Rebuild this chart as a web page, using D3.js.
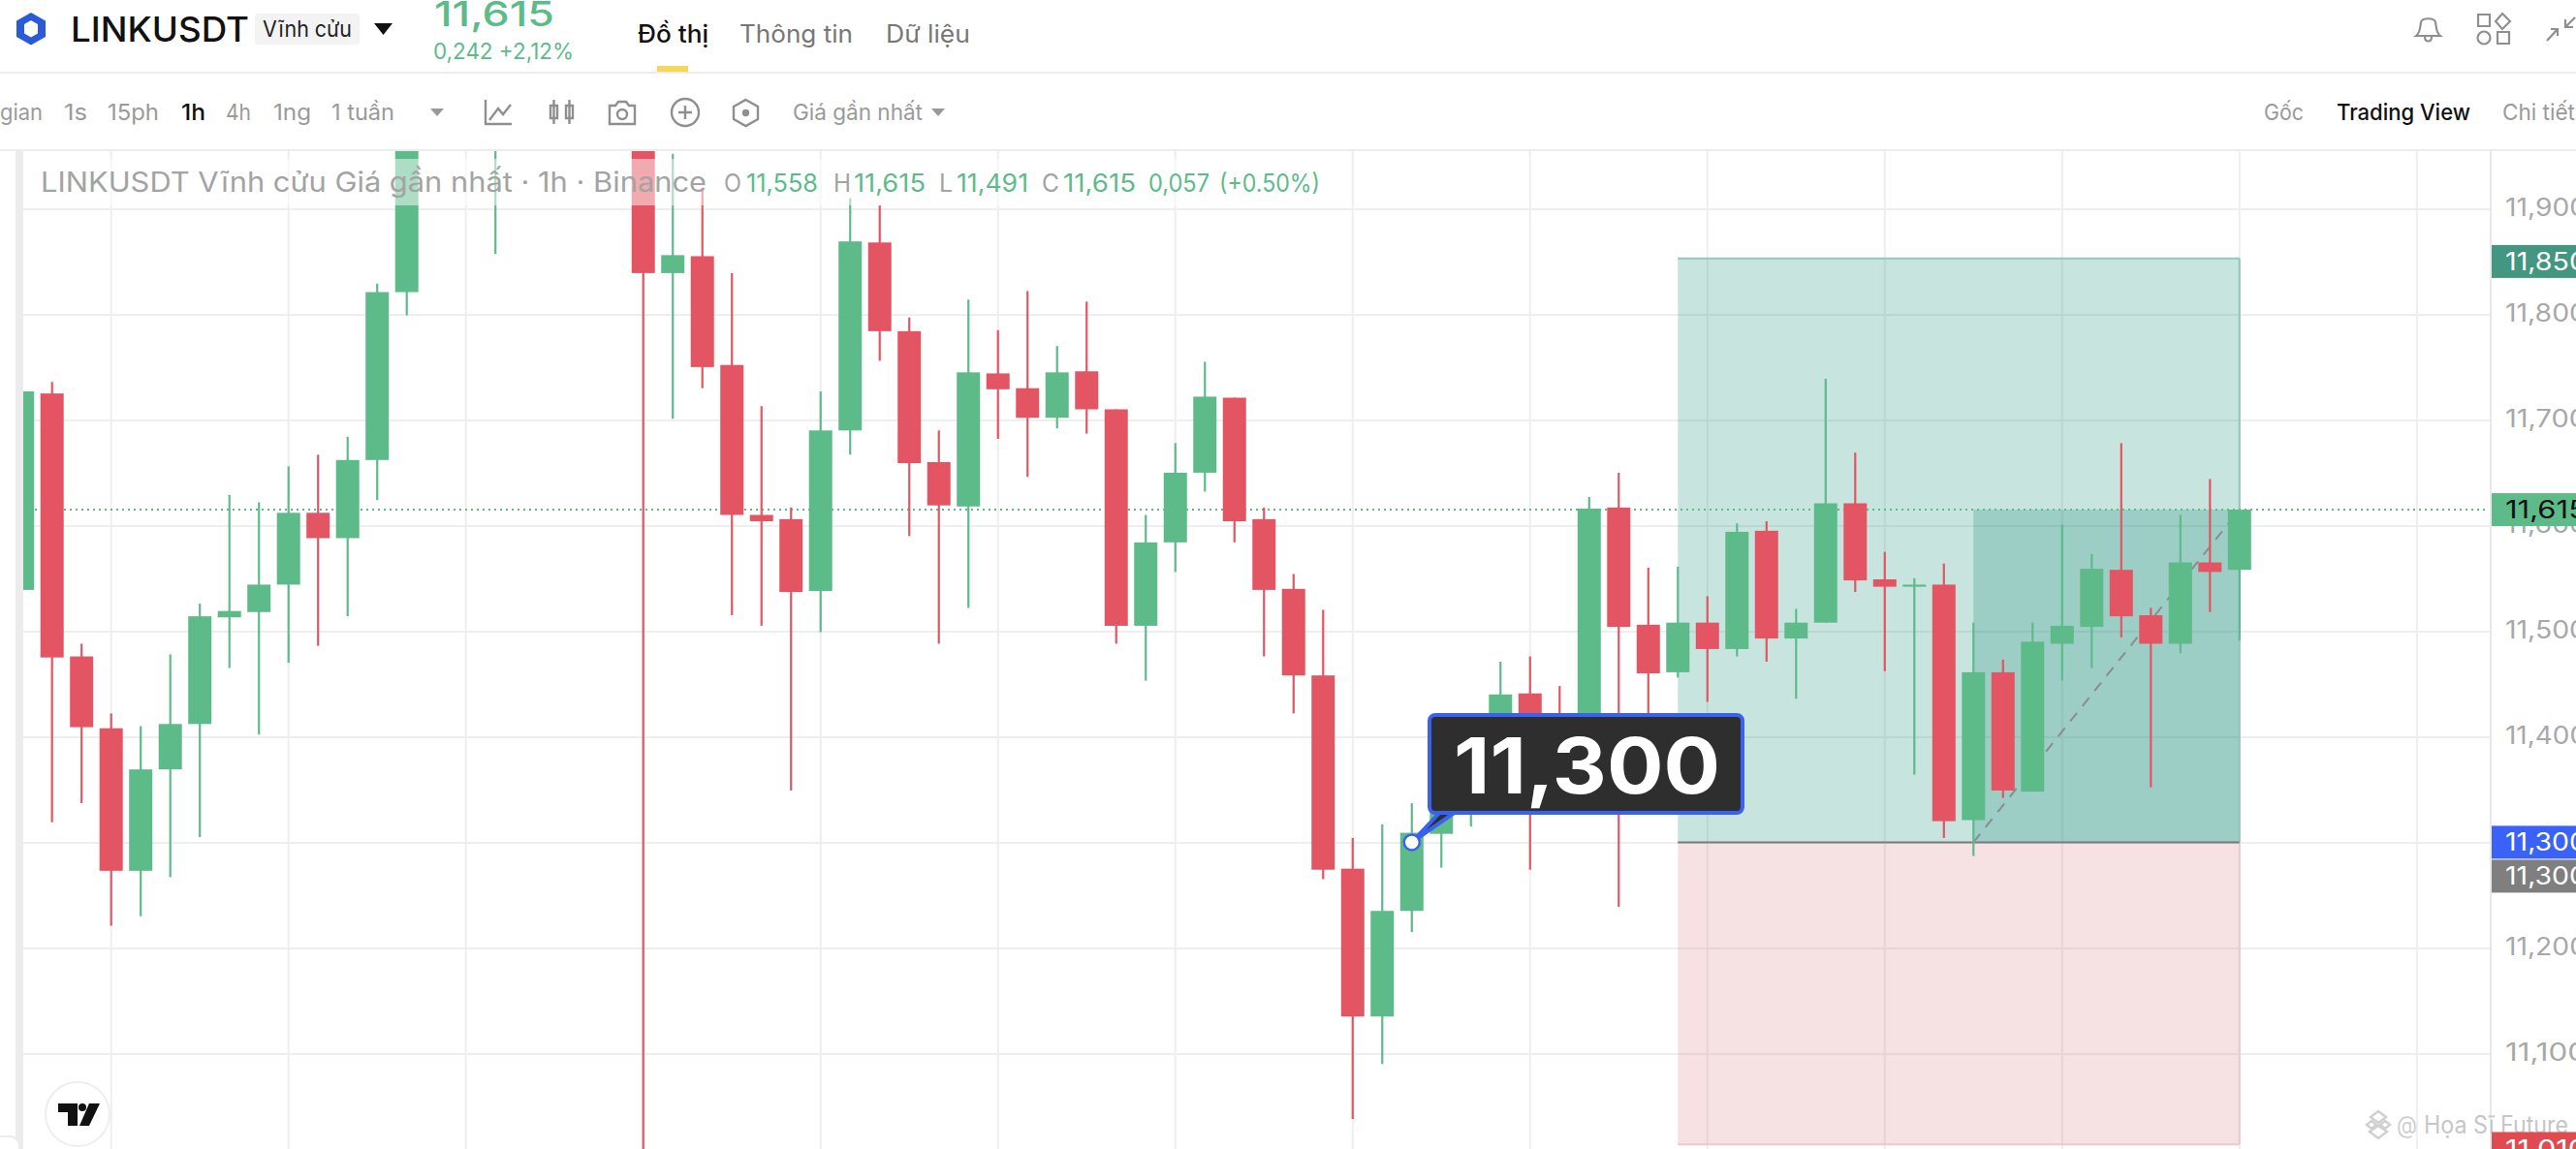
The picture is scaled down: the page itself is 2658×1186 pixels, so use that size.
<!DOCTYPE html>
<html>
<head>
<meta charset="utf-8">
<script src="https://cdn.jsdelivr.net/npm/d3@7"></script>
<style>
html, body { margin: 0; padding: 0; background: #fff; overflow: hidden; }
svg { display: block; }
text { font-family: Inter, "Noto Sans", sans-serif; }
</style>
</head>
<body>
<div id="chart"></div>
<script>
// candle values; 14-20 are above the visible pane
var opens = [11.539,11.725,11.476,11.408,11.273,11.369,11.412,11.513,11.518,11.544,11.612,11.588,11.662,11.821,
    11.98,12.04,12.0,12.05,12.10,12.08,12.05,12.0,11.839,11.855,11.752,11.610,11.606,11.538,11.690,11.868,11.784,
    11.660,11.618,11.744,11.730,11.702,11.746,11.710,11.505,11.584,11.650,11.721,11.606,11.540,11.458,11.275,
    11.135,11.235,11.308,11.36,11.40,11.441,11.41,11.40,11.617,11.506,11.461,11.508,11.483,11.595,11.493,11.508,
    11.621,11.549,11.542,11.544,11.321,11.461,11.348,11.488,11.504,11.558,11.515,11.488,11.565,11.558];
var highs = [11.727,11.736,11.488,11.422,11.410,11.478,11.526,11.629,11.622,11.656,11.667,11.684,11.829,12.01,
    12.07,12.08,12.09,12.13,12.14,12.12,12.09,12.03,11.952,11.919,11.839,11.713,11.617,11.727,11.910,11.903,11.797,
    11.690,11.814,11.785,11.822,11.770,11.812,11.710,11.610,11.678,11.755,11.721,11.617,11.554,11.520,11.304,
    11.317,11.337,11.39,11.41,11.471,11.476,11.448,11.627,11.650,11.560,11.561,11.533,11.602,11.604,11.521,11.739,
    11.669,11.575,11.550,11.564,11.508,11.473,11.508,11.601,11.573,11.678,11.522,11.610,11.644,11.615];
var lows = [11.539,11.319,11.337,11.221,11.230,11.267,11.305,11.465,11.402,11.470,11.486,11.514,11.624,11.799,
    11.97,11.98,11.857,12.0,12.03,12.0,11.98,10.95,11.701,11.730,11.515,11.505,11.349,11.499,11.667,11.756,11.590,
    11.488,11.522,11.682,11.646,11.692,11.687,11.488,11.453,11.556,11.632,11.584,11.476,11.422,11.265,11.038,
    11.090,11.215,11.276,11.315,11.38,11.274,11.34,11.37,11.239,11.42,11.456,11.433,11.476,11.471,11.436,11.508,
    11.537,11.462,11.364,11.304,11.287,11.342,11.348,11.453,11.465,11.494,11.352,11.479,11.518,11.491];
var closes = [11.727,11.475,11.409,11.273,11.369,11.412,11.514,11.519,11.544,11.612,11.588,11.662,11.821,11.98,
    12.04,12.02,12.05,12.10,12.08,12.05,12.0,11.839,11.856,11.750,11.610,11.604,11.537,11.690,11.869,11.784,11.659,
    11.619,11.745,11.729,11.702,11.745,11.710,11.505,11.584,11.650,11.722,11.604,11.539,11.458,11.274,11.135,
    11.235,11.309,11.36,11.40,11.44,11.39,11.37,11.616,11.504,11.460,11.508,11.483,11.594,11.493,11.508,11.621,
    11.548,11.542,11.544,11.320,11.461,11.349,11.490,11.505,11.559,11.514,11.488,11.565,11.556,11.615];

var priceTicks = [11.1,11.2,11.3,11.4,11.5,11.6,11.7,11.8,11.9];
var gridCandles = [3,9,15,21,27,33,39,45,51,57,63,69,75,81];

// long position tool: target, entry, stop, and its start / end candles
var target = 11.853, entry = 11.3, stop = 11.014, last = 11.615;
var toolStart = 56, fillStart = 66, toolEnd = 75;
var noteCandle = 47;

var tagValues = [11.85, 11.615, 11.3, 11.3, 11.01];
var tagLabels = ["11,850", "11,615", "11,300", "11,300", "11,010"];
var tagColors = ["#43967f", "#5dbb8a", "#3b62f6", "#7f7f7f", "#e04b50"];
var tagInk = ["#fff", "#111", "#fff", "#fff", "#fff"];
var tagShift = [0, 0, 0, 35, 0];

var UP = "#5dbb8a", DOWN = "#e45563", GRID = "#eeeeee";
var W = 2658, H = 1186, paneLeft = 24, paneTop = 156, axisX = 2570;

var svg = d3.select("#chart").append("svg").attr("width", W).attr("height", H);

var x = d3.scaleLinear().domain([0, 75]).range([23.2, 2310.8]);
var y = d3.scaleLinear().domain([11.9, 11.1]).range([215.4, 1087.4]);

svg.append("clipPath").attr("id", "pane").append("rect")
    .attr("x", paneLeft).attr("y", paneTop).attr("width", axisX - paneLeft).attr("height", H - paneTop);

// the reference screenshot is stretched sideways, so texts take a measured width
function label(parent, px, py, s, size, fill, weight, anchor, w) {
    var t = parent.append("text").attr("x", px).attr("y", py).text(s)
        .attr("font-size", size).attr("fill", fill)
        .attr("font-weight", weight || 400)
        .attr("text-anchor", anchor || "start");
    if (w) t.attr("textLength", w).attr("lengthAdjust", "spacingAndGlyphs");
    return t;
}

// ---- pane frame
svg.append("rect").attr("x", 16).attr("y", 156).attr("width", 8).attr("height", H - 156).attr("fill", "#ececec");
svg.append("rect").attr("x", -8).attr("y", 1173).attr("width", 28).attr("height", 30).attr("rx", 10)
    .attr("fill", "#fff").attr("stroke", "#ececec").attr("stroke-width", 2);

var pane = svg.append("g").attr("clip-path", "url(#pane)");

// ---- grid, drawn from the axes
var gridY = d3.axisRight(y).tickValues(priceTicks).tickSize(axisX - paneLeft).tickFormat("");
pane.append("g").attr("transform", "translate(" + paneLeft + ",0)").call(gridY)
    .call(function (g) { g.select(".domain").remove(); })
    .selectAll("line").attr("stroke", GRID).attr("stroke-width", 2);

pane.append("g").selectAll("line").data(gridCandles).enter().append("line")
    .attr("x1", x).attr("x2", x).attr("y1", paneTop).attr("y2", H)
    .attr("stroke", GRID).attr("stroke-width", 2);

// ---- position zones
pane.append("rect").attr("x", x(toolStart)).attr("y", y(target))
    .attr("width", x(toolEnd) - x(toolStart)).attr("height", y(entry) - y(target))
    .attr("fill", "rgba(19,139,115,.235)");
pane.append("rect").attr("x", x(toolStart)).attr("y", y(entry))
    .attr("width", x(toolEnd) - x(toolStart)).attr("height", y(stop) - y(entry))
    .attr("fill", "rgba(210,95,100,.18)");
pane.append("rect").attr("x", x(fillStart)).attr("y", y(last))
    .attr("width", x(toolEnd) - x(fillStart)).attr("height", y(entry) - y(last))
    .attr("fill", "rgba(28,138,128,.25)");
pane.append("line").attr("x1", x(toolStart)).attr("x2", x(toolEnd)).attr("y1", y(target)).attr("y2", y(target))
    .attr("stroke", "#93c6b8").attr("stroke-width", 2);
pane.append("line").attr("x1", x(toolStart)).attr("x2", x(toolEnd)).attr("y1", y(stop)).attr("y2", y(stop))
    .attr("stroke", "#ecc9cb").attr("stroke-width", 2);
pane.append("line").attr("x1", x(toolEnd)).attr("x2", x(toolEnd)).attr("y1", y(target)).attr("y2", y(entry))
    .attr("stroke", "#93c6b8").attr("stroke-width", 2);
pane.append("line").attr("x1", x(toolEnd)).attr("x2", x(toolEnd)).attr("y1", y(entry)).attr("y2", y(stop))
    .attr("stroke", "#ecc9cb").attr("stroke-width", 2);
pane.append("line").attr("x1", x(toolStart)).attr("x2", x(toolEnd)).attr("y1", y(entry)).attr("y2", y(entry))
    .attr("stroke", "#7b7b7b").attr("stroke-width", 2);
pane.append("line").attr("x1", x(fillStart)).attr("x2", x(toolEnd)).attr("y1", y(entry)).attr("y2", y(last))
    .attr("stroke", "#8c8c8c").attr("stroke-width", 2).attr("stroke-dasharray", "11,9");

// ---- last price line
pane.append("line").attr("x1", paneLeft).attr("x2", 2566).attr("y1", y(last)).attr("y2", y(last))
    .attr("stroke", UP).attr("stroke-width", 2).attr("stroke-dasharray", "2,4");

// ---- candles
var candles = pane.selectAll("g.candle").data(opens).enter().append("g").attr("class", "candle");
candles.append("line")
    .attr("x1", function (d, i) { return x(i); })
    .attr("x2", function (d, i) { return x(i); })
    .attr("y1", function (d, i) { return y(highs[i]); })
    .attr("y2", function (d, i) { return y(lows[i]); })
    .attr("stroke", function (d, i) { return closes[i] >= opens[i] ? UP : DOWN; })
    .attr("stroke-width", 2.2);
candles.append("rect")
    .attr("x", function (d, i) { return x(i) - 12; })
    .attr("width", 24)
    .attr("y", function (d, i) { return y(Math.max(opens[i], closes[i])); })
    .attr("height", function (d, i) { return Math.max(2, Math.abs(y(opens[i]) - y(closes[i]))); })
    .attr("fill", function (d, i) { return closes[i] >= opens[i] ? UP : DOWN; });

// ---- legend band
pane.append("rect").attr("x", paneLeft).attr("y", 164).attr("width", 1338).attr("height", 48)
    .attr("fill", "rgba(255,255,255,.5)");
label(svg, 42, 198, "LINKUSDT Vĩnh cửu Giá gần nhất · 1h · Binance", 28, "#a3a3a3", 400, "start", 687);
[[747,"O","#a3a3a3",18],[770,"11,558",UP,74],[860,"H","#a3a3a3",18],[881,"11,615",UP,74],[969,"L","#a3a3a3",14],
 [987,"11,491",UP,74],[1075,"C","#a3a3a3",18],[1097,"11,615",UP,75],[1185,"0,057",UP,63],[1258,"(+0.50%)",UP,104]].forEach(function (t) {
    label(svg, t[0], 198, t[1], 25, t[2], 400, "start", t[3]);
});

// ---- price axis
svg.append("line").attr("x1", axisX).attr("x2", axisX).attr("y1", paneTop).attr("y2", H)
    .attr("stroke", "#e8e8e8").attr("stroke-width", 2);
var priceAxis = d3.axisRight(y).tickValues(priceTicks).tickSize(0).tickPadding(0)
    .tickFormat(function (d) { return d3.format(",.3f")(d).replace(".", ","); });
svg.append("g").attr("transform", "translate(2585,-1)").call(priceAxis)
    .call(function (g) { g.select(".domain").remove(); })
    .selectAll("text").attr("font-size", 25).attr("fill", "#a8a8a8")
    .attr("textLength", 84).attr("lengthAdjust", "spacingAndGlyphs")
    .style("font-family", "Inter, sans-serif");

// ---- watermark
var wm = svg.append("g").attr("fill", "none").attr("stroke", "#d0d0d0").attr("stroke-width", 2.4);
wm.append("path").attr("d", "M2454,1147L2462,1153L2454,1159L2446,1153Z M2442,1161L2447,1157L2452,1161L2447,1165Z M2466,1161L2461,1157L2456,1161L2461,1165Z M2454,1175L2445,1168L2454,1162L2463,1168Z");
label(svg, 2473, 1170, "@", 25, "#cfcfcf", 400, "start", 21);
label(svg, 2501, 1170, "Họa Sĩ Future", 25, "#c6c6c6", 400, "start", 149);

// ---- price tags
var tags = svg.selectAll("g.tag").data(tagValues).enter().append("g").attr("class", "tag")
    .attr("transform", function (d, i) { return "translate(2571," + (y(d) + tagShift[i] - 17) + ")"; });
tags.append("rect").attr("width", 90).attr("height", 34).attr("fill", function (d, i) { return tagColors[i]; });
tags.append("text").attr("x", 14).attr("y", 26).attr("font-size", 25)
    .attr("textLength", 84).attr("lengthAdjust", "spacingAndGlyphs")
    .attr("fill", function (d, i) { return tagInk[i]; })
    .text(function (d, i) { return tagLabels[i]; });

// ---- callout on the entry point
var px = x(noteCandle), py = y(entry);
svg.append("path").attr("d", "M" + px + "," + py + "L" + (px + 30) + "," + (py - 32) + "L" + (px + 46) + "," + (py - 32) + "Z")
    .attr("fill", "#2e2e2e").attr("stroke", "#3a62f0").attr("stroke-width", 4);
svg.append("rect").attr("x", 1475).attr("y", 738).attr("width", 323).attr("height", 101).attr("rx", 6)
    .attr("fill", "#2e2e2e").attr("stroke", "#3a62f0").attr("stroke-width", 4);
label(svg, 1500, 819, tagLabels[2], 80, "#fff", 700, "start", 275);
svg.append("circle").attr("cx", px).attr("cy", py).attr("r", 8)
    .attr("fill", "#fff").attr("stroke", "#3a62f0").attr("stroke-width", 2.5);

// ---- tradingview badge
svg.append("circle").attr("cx", 80).attr("cy", 1150).attr("r", 33).attr("fill", "#fff").attr("stroke", "#eee").attr("stroke-width", 2);
svg.append("path").attr("d", "M60,1139H80V1162H70V1148H60Z M92,1139L103,1139L92,1162L82,1162Z").attr("fill", "#111");
svg.append("circle").attr("cx", 85).attr("cy", 1143).attr("r", 4).attr("fill", "#111");

// ---- header
svg.append("rect").attr("x", 0).attr("y", 74).attr("width", W).attr("height", 2).attr("fill", "#ececec");
svg.append("rect").attr("x", 0).attr("y", 154).attr("width", W).attr("height", 2).attr("fill", "#ececec");
svg.append("rect").attr("x", 678).attr("y", 68).attr("width", 32).attr("height", 6).attr("fill", "#f6d75a");
svg.append("path").attr("d", "M32,13L47,21.5V38L32,46.5L17,38V21.5Z M32,21L25,25V34.5L32,38.5L39,34.5V25Z")
    .attr("fill", "#2a5ada").attr("fill-rule", "evenodd");
label(svg, 73, 43, "LINKUSDT", 35, "#111", 500, "start", 184);
svg.append("rect").attr("x", 263).attr("y", 14).attr("width", 108).attr("height", 32).attr("rx", 3).attr("fill", "#f3f3f3");
label(svg, 271, 38, "Vĩnh cửu", 23, "#222", 400, "start", 92);
svg.append("path").attr("d", "M386,24H405L395.5,36Z").attr("fill", "#111");
label(svg, 448, 27, "11,615", 36, UP, 500, "start", 124);
label(svg, 447, 61, "0,242 +2,12%", 23, UP, 400, "start", 145);
label(svg, 658, 44, "Đồ thị", 25, "#111", 500, "start", 73);
label(svg, 763, 44, "Thông tin", 25, "#777", 400, "start", 117);
label(svg, 914, 44, "Dữ liệu", 25, "#777", 400, "start", 87);

// ---- toolbar
[[0,"gian","#9a9a9a",44],[66,"1s","#9a9a9a",24],[111,"15ph","#9a9a9a",53],[187,"1h","#111",25],[233,"4h","#9a9a9a",26],
 [282,"1ng","#9a9a9a",39],[342,"1 tuần","#9a9a9a",65],[818,"Giá gần nhất","#9a9a9a",134],[2336,"Gốc","#9a9a9a",41],
 [2411,"Trading View","#111",138],[2582,"Chi tiết","#9a9a9a",75]].forEach(function (t) {
    label(svg, t[0], 124, t[1], 23, t[2], t[2] === "#111" ? 500 : 400, "start", t[3]);
});
svg.append("path").attr("d", "M444,112H458L451,120Z M961,112H975L968,120Z").attr("fill", "#999");

var ic = svg.append("g").attr("fill", "none").attr("stroke", "#8f8f8f").attr("stroke-width", 2.4);
ic.append("path").attr("d", "M501,103V128H528 M505,124L514,112L519,118L527,108");
ic.append("path").attr("d", "M568,109H575V122H568Z M584,109H591V122H584Z M571.5,103V128 M587.5,103V128");
ic.append("path").attr("d", "M629,109H635L638,105H646L649,109H655V128H629Z");
ic.append("circle").attr("cx", 642).attr("cy", 118).attr("r", 5);
ic.append("circle").attr("cx", 707).attr("cy", 116).attr("r", 14);
ic.append("path").attr("d", "M707,109V123 M700,116H714");
ic.append("path").attr("d", "M769.5,103L782,110V123L769.5,130L757,123V110Z");
ic.append("circle").attr("cx", 769.5).attr("cy", 116.5).attr("r", 2.5).attr("fill", "#8f8f8f");

var topIcons = svg.append("g").attr("fill", "none").attr("stroke", "#8f8f8f").attr("stroke-width", 2.2);
topIcons.append("path").attr("d", "M2493,37C2498,33 2497,27 2498,23C2499,18 2512,18 2513,23C2514,27 2513,33 2518,37Z M2502,38C2502,44 2509,44 2509,38");
topIcons.append("path").attr("d", "M2557,15H2569V27H2557Z M2582,14L2590,22L2582,30L2575,22Z M2577,33H2589V45H2577Z");
topIcons.append("circle").attr("cx", 2563).attr("cy", 39).attr("r", 6.5);
topIcons.append("path").attr("d", "M2628,42L2639,30 M2632,30H2639V37 M2657,18L2647,28 M2647,20V28H2655");
</script>
</body>
</html>
